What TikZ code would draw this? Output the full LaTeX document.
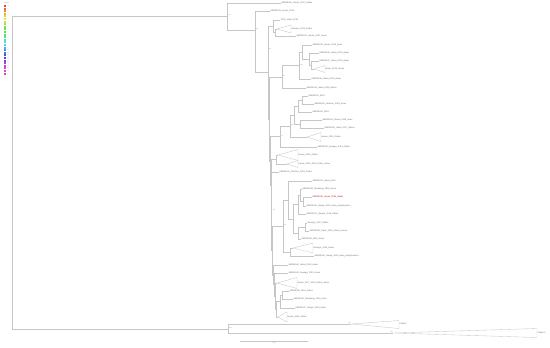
\PassOptionsToPackage{rgb}{xcolor}
\documentclass[tikz,border=0pt]{standalone}
\usepackage{fontspec}
\setmainfont{Liberation Sans}
\usepackage{tikz}
\usetikzlibrary{positioning, calc}

\begin{document}
\begin{tikzpicture}[x=0.5mm, y=-0.5mm,
          br/.style={draw=gray!45, line width=0.5pt},
          clade/.style={draw=gray!45, line width=0.5pt},
          leaf/.style={font=\fontsize{3}{3.5}\selectfont, text=black!60, inner sep=0.6pt, anchor=west},
          bs/.style={font=\fontsize{2}{2.4}\selectfont, text=gray, inner sep=0.3pt},
          legbox/.style={minimum size=3pt, inner sep=0pt}
        ]
        \useasboundingbox (0,0) rectangle (550,347);

        % Legend
        \node[bs, anchor=west] (legtitle) at (3.5,2.8) {Province};
        \foreach \lab [count=\i from 0] in {AH,BJ,CQ,FJ,GS,GD,GX,GZ,HI,HE,HL,HA,HB,HN,JS,
                                            JX,JL,LN,NM,NX,QH,SD,SX,SN,SH,SC,TJ}{
          \pgfmathsetmacro\hue{\i/27*0.93}
          \definecolor{legc}{hsb}{\hue,0.7,0.9}
          \node[legbox, fill=legc] (leg\i) at (5,6+2.6*\i) {};
          \node[bs, right=0.8pt of leg\i, text=legc!50] (legl\i) {\lab};
        }

        % Root
        \coordinate (root) at (12,176);
        \coordinate (nA) at (227,16);
        \coordinate (nZ) at (228,329);
        \draw[br] (root) |- (nA);
        \draw[br] (root) |- (nZ);
        \node[bs, anchor=south west] at (228,16) {100};

        % Top of the tree
        \node[leaf] (l01) at (281,3) {HBR00006\_Hunan\_2017\_Gallus};
        \coordinate (nB) at (255,30);
        \draw[br] (nA) |- (l01.west);
        \draw[br] (nA) |- (nB);
        \node[bs, anchor=south west] at (256,30) {98};
        \node[leaf] (l02) at (270,11) {HBR00011\_Hunan\_2018};
        \coordinate (nC) at (268,72);
        \draw[br] (nB) |- (l02.west);
        \draw[br] (nB) |- (nC);
        \node[bs, anchor=south west] at (269,50) {87};

        % Cluster D
        \coordinate (nD) at (273,26);
        \coordinate (nD1) at (275,32);
        \node[leaf] (l03) at (280,20) {TP01\_Hubei\_2016};
        \coordinate (t01) at (277,29);
        \draw[clade] (t01) -- ++(14,-4) -- ++(0,8) -- cycle;
        \node[leaf] (t01l) at (291,29) {Shaanxi\_2019\_Gallus};
        \node[leaf] (l04) at (296,36) {HBR00012\_Henan\_2020\_Anser};
        \draw[br] (nC) |- (nD);
        \draw[br] (nD) |- (l03.west);
        \draw[br] (nD) |- (nD1);
        \draw[br] (nD1) |- (t01);
        \draw[br] (nD1) |- (l04.west);

        % Backbone
        \coordinate (nE) at (269,119);
        \coordinate (nN3) at (270,161);
        \coordinate (nN4) at (271,185);
        \coordinate (nN5) at (271.5,211);
        \coordinate (nN6) at (272,250);
        \coordinate (nN7) at (273,275);
        \coordinate (nN8) at (274,284.5);
        \coordinate (nN9) at (275,296);
        \coordinate (nN10) at (276,309);
        \draw[br] (nC) |- (nE);
        \draw[br] (nE) |- (nN3);
        \draw[br] (nN3) |- (nN4);
        \draw[br] (nN4) |- (nN5);
        \draw[br] (nN5) |- (nN6);
        \draw[br] (nN6) |- (nN7);
        \draw[br] (nN7) |- (nN8);
        \draw[br] (nN8) |- (nN9);
        \draw[br] (nN9) |- (nN10);

        % Cluster F
        \coordinate (nF) at (282,77);
        \coordinate (nF1) at (299,65.5);
        \coordinate (nF2) at (302,52);
        \coordinate (nF3) at (309,59);
        \coordinate (nF4) at (311,65);
        \node[leaf] (l05) at (312,45) {HBR00015\_Henan\_2019\_Anas};
        \node[leaf] (l06) at (319,53) {HBR00016\_Hubei\_2019\_Anser};
        \node[leaf] (l07) at (319,61) {HBR00017\_Hubei\_2019\_Anser};
        \coordinate (t02) at (314,69);
        \draw[clade] (t02) -- ++(11,-3.5) -- ++(0,7) -- cycle;
        \node[leaf] (t02l) at (325,69) {Anser\_2019\_Hunan};
        \node[leaf] (l08) at (311,79) {HBR00018\_Hubei\_2019\_Anser};
        \node[leaf] (l09) at (306,88) {HBR00019\_Hubei\_2018\_Gallus};
        \draw[br] (nE) |- (nF);
        \draw[br] (nF) |- (nF1);
        \draw[br] (nF) |- (l09.west);
        \draw[br] (nF1) |- (nF2);
        \draw[br] (nF1) |- (l08.west);
        \draw[br] (nF2) |- (l05.west);
        \draw[br] (nF2) |- (nF3);
        \draw[br] (nF3) |- (l06.west);
        \draw[br] (nF3) |- (nF4);
        \draw[br] (nF4) |- (l07.west);
        \draw[br] (nF4) |- (t02);
        \node[bs, anchor=south west] at (283,77) {92};
        \node[bs, anchor=south west] at (300,65.5) {100};

        % Cluster H
        \coordinate (nH) at (280,136.5);
        \coordinate (nH5) at (290,126);
        \coordinate (nH1) at (294,115);
        \coordinate (nH2) at (298,106);
        \coordinate (nH3) at (302,100);
        \coordinate (nH4) at (300,124);
        \node[leaf] (l10) at (308,96) {HBR00021\_2016};
        \node[leaf] (l11) at (314,104) {HBR00022\_Guizhou\_2020\_Anser};
        \node[leaf] (l12) at (312,112) {HBR00023\_2018};
        \node[leaf] (l13) at (322,120) {HBR00024\_Shanxi\_2019\_Anas};
        \node[leaf] (l14) at (324,128) {HBR00025\_Hubei\_2017\_Gallus};
        \coordinate (t03) at (307,137);
        \draw[clade] (t03) -- ++(14,-4.5) -- ++(0,9) -- cycle;
        \node[leaf] (t03l) at (321,137) {Hunan\_2019\_Gallus};
        \node[leaf] (l15) at (317,147) {HBR00026\_Guangxi\_2019\_Gallus};
        \draw[br] (nN3) |- (nH);
        \draw[br] (nH) |- (nH5);
        \draw[br] (nH) |- (l15.west);
        \draw[br] (nH5) |- (nH1);
        \draw[br] (nH5) |- (t03);
        \draw[br] (nH1) |- (nH2);
        \draw[br] (nH1) |- (nH4);
        \draw[br] (nH2) |- (nH3);
        \draw[br] (nH2) |- (l12.west);
        \draw[br] (nH3) |- (l10.west);
        \draw[br] (nH3) |- (l11.west);
        \draw[br] (nH4) |- (l13.west);
        \draw[br] (nH4) |- (l14.west);
        \node[bs, anchor=south west] at (281,136.5) {76};
        \node[bs, anchor=south west] at (291,126) {99};

        % Cluster J
        \coordinate (nJ) at (276,159.5);
        \coordinate (t04) at (278,155);
        \coordinate (t05) at (287,164);
        \draw[clade] (t04) -- ++(20,-5.5) -- ++(0,11) -- cycle;
        \draw[clade] (t05) -- ++(11,-3.5) -- ++(0,7) -- cycle;
        \node[leaf] (t04l) at (298,155) {Hunan\_2020\_Gallus};
        \node[leaf] (t05l) at (298,164) {Hunan\_2019\_2020\_Gallus\_Anser};
        \node[leaf] (l16) at (279,172) {HBR00031\_Guizhou\_2019\_Gallus};
        \draw[br] (nN4) |- (nJ);
        \draw[br] (nJ) |- (t04);
        \draw[br] (nJ) |- (t05);
        \draw[br] (nN5) |- (l16.west);

        % Cluster K
        \coordinate (nK) at (283,226);
        \coordinate (nK9) at (288,200);
        \coordinate (nK6) at (293,219);
        \coordinate (nK3) at (298,204.6);
        \coordinate (nK2) at (300,195);
        \coordinate (nK1) at (303,201.5);
        \coordinate (nK5) at (298,233);
        \coordinate (nK4) at (305,227);
        \coordinate (nK7) at (290,252);
        \node[leaf] (l17) at (312,181) {HBR00033\_Hubei\_2018};
        \node[leaf] (l18) at (302,189) {HBR00034\_Shandong\_2018\_Anser};
        \node[leaf, text=red!75!black] (l19) at (312,197) {HBR00035\_Hunan\_2018\_Gallus};
        \node[leaf] (l20) at (306,206) {HBR00036\_Jiangxi\_2019\_Anas\_platyrhynchos};
        \node[leaf] (l21) at (306,214) {HBR00037\_Jiangsu\_2018\_Gallus};
        \node[leaf] (l22) at (307,223) {Guangxi\_2017\_Gallus};
        \node[leaf] (l23) at (309,231) {HBR00038\_Fujian\_2019\_Gallus\_Hunan};
        \node[leaf] (l24) at (301,239) {HBR00039\_2018\_Anser};
        \coordinate (t06) at (293,248);
        \draw[clade] (t06) -- ++(20,-5) -- ++(0,10) -- cycle;
        \node[leaf] (t06l) at (313,248) {Guangxi\_2019\_Anser};
        \node[leaf] (l25) at (314,256) {HBR00040\_Jiangxi\_2018\_Anas\_platyrhynchos};
        \draw[br] (nN6) |- (nK);
        \draw[br] (nK) |- (nK9);
        \draw[br] (nK) |- (nK7);
        \draw[br] (nK9) |- (l17.west);
        \draw[br] (nK9) |- (nK6);
        \draw[br] (nK6) |- (nK3);
        \draw[br] (nK6) |- (nK5);
        \draw[br] (nK3) |- (nK2);
        \draw[br] (nK3) |- (l21.west);
        \draw[br] (nK2) |- (l18.west);
        \draw[br] (nK2) |- (nK1);
        \draw[br] (nK1) |- (l19.west);
        \draw[br] (nK1) |- (l20.west);
        \draw[br] (nK5) |- (nK4);
        \draw[br] (nK5) |- (l24.west);
        \draw[br] (nK4) |- (l22.west);
        \draw[br] (nK4) |- (l23.west);
        \draw[br] (nK7) |- (t06);
        \draw[br] (nK7) |- (l25.west);
        \node[bs, anchor=south west] at (284,226) {85};
        \node[bs, anchor=south west] at (273,211) {64};

        % Cluster M
        \coordinate (nM2) at (280,301.5);
        \coordinate (nM1) at (282,295);
        \node[leaf] (l26) at (288,265) {HBR00042\_Hubei\_2018\_Anser};
        \node[leaf] (l27) at (288,273) {HBR00043\_Guangxi\_2019\_Anser};
        \coordinate (t07) at (277,283);
        \draw[clade] (t07) -- ++(20,-5.5) -- ++(0,11) -- cycle;
        \node[leaf] (t07l) at (297,283) {Henan\_2017\_2018\_Gallus\_Anser};
        \node[leaf] (l28) at (289,291) {HBR00045\_2019\_Gallus};
        \node[leaf] (l29) at (293,299) {HBR00046\_Shandong\_2019\_Anas};
        \node[leaf] (l30) at (295,308) {HBR00047\_Jiangxi\_2019\_Anser};
        \coordinate (t08) at (278,317);
        \draw[clade] (t08) -- ++(9,-5) -- ++(0,10) -- cycle;
        \node[leaf] (t08l) at (287,317) {Hunan\_2018\_Gallus};
        \draw[br] (nN7) |- (l26.west);
        \draw[br] (nN8) |- (l27.west);
        \draw[br] (nN9) |- (t07);
        \draw[br] (nN10) |- (nM2);
        \draw[br] (nN10) |- (t08);
        \draw[br] (nM2) |- (nM1);
        \draw[br] (nM2) |- (l30.west);
        \draw[br] (nM1) |- (l28.west);
        \draw[br] (nM1) |- (l29.west);
        \node[bs, anchor=south west] at (274,275) {71};

        % Outer clades
        \coordinate (t09) at (351,324);
        \coordinate (t10) at (393,333);
        \draw[br] (nZ) |- (t09);
        \draw[br] (nZ) |- (t10);
        \draw[clade] (t09) -- ++(48,-3.5) -- ++(0,8) -- cycle;
        \draw[clade] (t10) -- ++(144,-4.5) -- ++(0,9) -- cycle;
        \node[leaf] (t09l) at (399,324) {Clade II};
        \node[leaf] (t10l) at (537,333) {Clade III};
        \node[bs, anchor=south west] at (229,329) {100};
        \node[bs, anchor=south east] at (351,324) {100};
        \node[bs, anchor=south east] at (393,333) {100};

        % Scale bar
        \coordinate (sb1) at (240,341.5);
        \coordinate (sb2) at (308,341.5);
        \draw[br] (sb1) -- (sb2);
        \node[bs, below=0.4pt] (sbl) at ($(sb1)!0.5!(sb2)$) {0.02};
      \end{tikzpicture}
\end{document}
